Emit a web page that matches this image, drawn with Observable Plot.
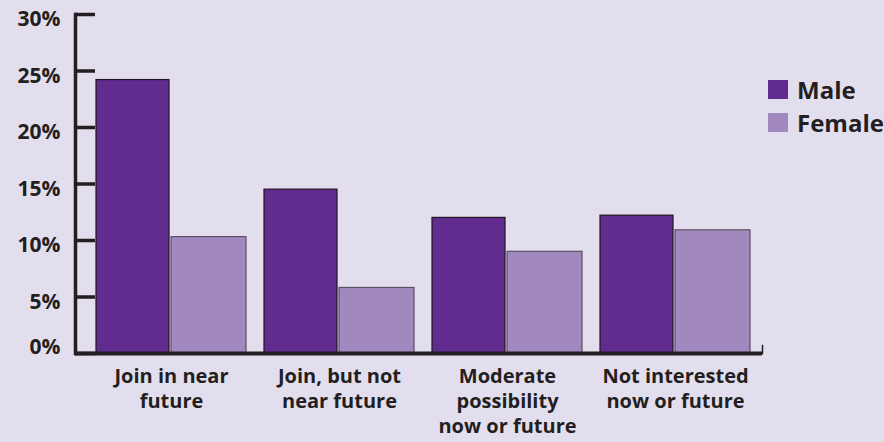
<!DOCTYPE html>
<html><head><meta charset="utf-8">
<script src="https://cdn.jsdelivr.net/npm/d3@7"></script>
<script src="https://cdn.jsdelivr.net/npm/@observablehq/plot@0.6"></script>
<style>
html,body{margin:0;padding:0;background:#e3deee;overflow:hidden}
#wrap{position:relative;width:884px;height:442px;font-family:"Open Sans",sans-serif;font-weight:700;color:#231f20}
#legend{position:absolute;left:768px;top:73px}
.item{display:flex;align-items:center;height:33px;font-size:24px;white-space:nowrap;line-height:1}
.sw{width:20px;height:19px;margin-right:9px;flex:none}
</style></head><body><div id="wrap"></div>
<script>
const categories = ["Join in near\nfuture", "Join, but not\nnear future", "Moderate\npossibility\nnow or future", "Not interested\nnow or future"];
const series = ["Male", "Female"];
const male = [24.2, 14.5, 12.0, 12.2];
const female = [10.3, 5.8, 9.0, 10.9];
const colors = ["#622c8e", "#a189bf"];
const strokes = ["#1e1620", "#5a5060"];
const yTicks = [0, 5, 10, 15, 20, 25, 30];

const maleRows = categories.map((c, i) => ({category: c, sex: series[0], value: male[i]}));
const femaleRows = categories.map((c, i) => ({category: c, sex: series[1], value: female[i]}));

const ink = "#231f20";
const chart = Plot.plot({
  width: 884,
  height: 442,
  marginTop: 14,
  marginBottom: 89,
  marginLeft: 75,
  marginRight: 122,
  style: {background: "transparent", color: ink, fontFamily: "'Open Sans', sans-serif", fontWeight: 700, fontSize: "20px", overflow: "visible"},
  x: {domain: categories, range: [95, 750], paddingInner: 0.11, paddingOuter: 0},
  y: {domain: [0, 30]},
  marks: [
    Plot.barY(maleRows, {x: "category", y: "value", fill: colors[0], stroke: strokes[0], strokeWidth: 1.2, insetRight: 77}),
    Plot.barY(femaleRows, {x: "category", y: "value", fill: colors[1], stroke: strokes[1], strokeWidth: 1.2, insetLeft: 75}),
    Plot.frame({anchor: "left", stroke: ink, strokeWidth: 3.5}),
    Plot.ruleY([0], {stroke: ink, strokeWidth: 4}),
    Plot.frame({anchor: "right", insetTop: 331, stroke: ink, strokeWidth: 1.5}),
    Plot.axisY({ticks: yTicks, tickSize: -20, strokeWidth: 3.5, stroke: ink, text: null, label: null}),
    Plot.axisY({ticks: yTicks.filter(d => d > 0), tickSize: 0, tickPadding: 15, dy: 5, tickFormat: d => d + "%", fontSize: 21, fontWeight: 700, label: null}),
    Plot.axisY({ticks: yTicks.filter(d => d === 0), tickSize: 0, tickPadding: 15, dy: -6, tickFormat: d => d + "%", fontSize: 21, fontWeight: 700, label: null}),
    Plot.axisX({tickSize: 0, tickPadding: 12, fontSize: 20, fontWeight: 700, lineHeight: 1.25, label: null})
  ]
});
const wrap = document.getElementById("wrap");
wrap.appendChild(chart);
const legend = document.createElement("div");
legend.id = "legend";
series.forEach((s, i) => {
  const item = document.createElement("div");
  item.className = "item";
  const sw = document.createElement("span");
  sw.className = "sw";
  sw.style.background = colors[i];
  const t = document.createElement("span");
  t.textContent = s;
  item.appendChild(sw);
  item.appendChild(t);
  legend.appendChild(item);
});
wrap.appendChild(legend);
</script>
</body></html>
